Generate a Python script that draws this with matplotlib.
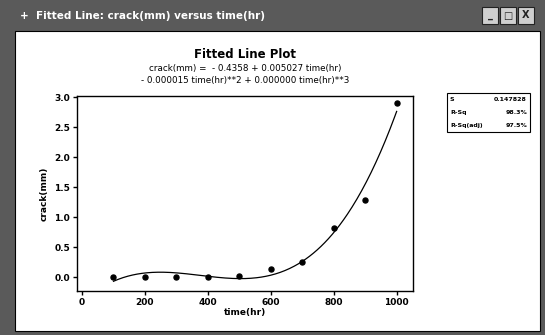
import numpy as np
import matplotlib
matplotlib.use("Agg")
import matplotlib.pyplot as plt
from matplotlib.patches import Rectangle

# Data
time_hr = [100, 200, 300, 400, 500, 600, 700, 800, 900, 1000]
crack_mm = [0.0, 0.0, 0.0, 0.01, 0.02, 0.14, 0.25, 0.82, 1.28, 2.90]
x_ticks = [0, 200, 400, 600, 800, 1000]
y_ticks = [0.0, 0.5, 1.0, 1.5, 2.0, 2.5, 3.0]
stat_names = ["S", "R-Sq", "R-Sq(adj)"]
stat_values = ["0.147828", "98.3%", "97.5%"]

W, H = 545, 335
fig = plt.figure(figsize=(W / 100, H / 100), dpi=100)
fig.patch.set_facecolor("white")

def px(x, y, w, h):
    return (x / W, 1 - (y + h) / H, w / W, h / H)

# window frame
fx, fy, fw, fh = px(0, 0, W, H)
fig.patches.append(Rectangle((fx, fy), fw, fh, transform=fig.transFigure,
                             facecolor="#5a5a5a", edgecolor="none", zorder=0))
cx, cy, cw, ch = px(15, 31, 525, 300)
fig.patches.append(Rectangle((cx, cy), cw, ch, transform=fig.transFigure,
                             facecolor="white", edgecolor="black", lw=0.8, zorder=1))
fig.text(20 / W, 1 - 16 / H, "+  Fitted Line: crack(mm) versus time(hr)", color="white",
         fontsize=7.5, fontweight="bold", va="center", ha="left")
for bx, glyph in [(482, "_"), (500, "□"), (518, "X")]:
    rx, ry, rw, rh = px(bx, 7, 16, 17)
    fig.patches.append(Rectangle((rx, ry), rw, rh, transform=fig.transFigure,
                                 facecolor="#cfcfcf", edgecolor="#222222", lw=0.8, zorder=2))
    fig.text((bx + 8) / W, 1 - 15.5 / H, glyph, fontsize=7, fontweight="bold",
             ha="center", va="center", color="#222222", zorder=3)

# Titles
fig.text(245 / W, 1 - 55 / H, "Fitted Line Plot", fontsize=8.5, fontweight="bold",
         ha="center", va="center")
fig.text(245 / W, 1 - 68 / H, "crack(mm) =  - 0.4358 + 0.005027 time(hr)", fontsize=6.3,
         ha="center", va="center")
fig.text(245 / W, 1 - 80 / H, "- 0.000015 time(hr)**2 + 0.000000 time(hr)**3", fontsize=6.3,
         ha="center", va="center")

ax = fig.add_axes([77 / W, 1 - 291 / H, (413 - 77) / W, (291 - 96) / H])
ax.set_zorder(5)
ax.set_facecolor("white")
x = np.array(time_hr, dtype=float)
y = np.array(crack_mm, dtype=float)
coef = np.polyfit(x, y, 3)
xs = np.linspace(x.min(), x.max(), 300)
ax.plot(xs, np.polyval(coef, xs), color="black", lw=0.9)
ax.plot(x, y, "o", color="black", markersize=3.6)

ax.set_xlim(-16, 1052)
ax.set_ylim(-0.23, 3.02)
ax.set_xticks(x_ticks)
ax.set_yticks(y_ticks)
ax.set_yticklabels([f"{v:.1f}" for v in y_ticks])
ax.tick_params(direction="out", length=3, width=1, labelsize=6.5, pad=2)
for lab in ax.get_xticklabels() + ax.get_yticklabels():
    lab.set_fontweight("bold")
for s in ax.spines.values():
    s.set_linewidth(1.0)
ax.set_xlabel("time(hr)", fontsize=6.5, fontweight="bold", labelpad=1)
ax.set_ylabel("crack(mm)", fontsize=6.5, fontweight="bold", labelpad=4)

# stats box
bx0, by0, bw, bh = 447, 93, 83, 39
rx, ry, rw, rh = px(bx0, by0, bw, bh)
fig.patches.append(Rectangle((rx, ry), rw, rh, transform=fig.transFigure,
                             facecolor="white", edgecolor="black", lw=0.8, zorder=2))
rowh = bh / 3
for i, (n, v) in enumerate(zip(stat_names, stat_values)):
    yc = by0 + rowh * (i + 0.5)
    fig.text((bx0 + 3) / W, 1 - yc / H, n, fontsize=4.5, fontweight="bold", va="center", ha="left")
    fig.text((bx0 + bw - 3) / W, 1 - yc / H, v, fontsize=4.5, fontweight="bold", va="center", ha="right")
    if i > 0:
        yl = 1 - (by0 + rowh * i) / H
        fig.add_artist(plt.Line2D([rx, rx + rw], [yl, yl], transform=fig.transFigure,
                                  color="black", lw=0.5))

fig.savefig("out.png", dpi=100)
